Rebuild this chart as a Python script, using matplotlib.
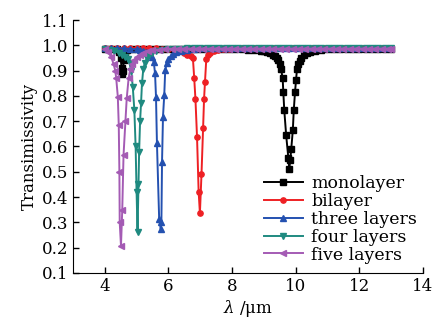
import matplotlib
matplotlib.use('Agg')
import matplotlib.pyplot as plt

plt.rcParams['font.family'] = ['DejaVu Serif']
plt.rcParams['mathtext.fontset'] = 'dejavuserif'

# (wavelength um, transmissivity)
mono = [(4.0, .986), (4.2, .986), (4.4, .984), (4.45, .975), (4.5, .95), (4.53, .91),
        (4.55, .885), (4.57, .90), (4.6, .94), (4.65, .97), (4.7, .981), (4.9, .985),
        (5.1, .986), (5.3, .986), (5.5, .986), (5.7, .986), (5.9, .986), (6.1, .986),
        (6.3, .986), (6.5, .986), (6.7, .986), (6.9, .986), (7.1, .986), (7.3, .986),
        (7.5, .986), (7.7, .986), (7.9, .986), (8.1, .985), (8.3, .984), (8.5, .983),
        (8.7, .981), (8.9, .978), (9.0, .976), (9.1, .973), (9.2, .969), (9.3, .962),
        (9.35, .957), (9.4, .950), (9.45, .940), (9.5, .925), (9.54, .905), (9.59, .870),
        (9.61, .817), (9.64, .745), (9.70, .645), (9.77, .553), (9.80, .512), (9.83, .548),
        (9.86, .590), (9.91, .665), (9.94, .745), (9.98, .817), (10.01, .862), (10.04, .905),
        (10.08, .925), (10.12, .938), (10.18, .950), (10.25, .960), (10.35, .968),
        (10.45, .973), (10.6, .978), (10.8, .982), (11.0, .984), (11.2, .985), (11.4, .986),
        (11.6, .986), (11.8, .986), (12.0, .986), (12.2, .986), (12.4, .986), (12.6, .986),
        (12.8, .986), (13.0, .986)]

bilayer = [(4.0, .988), (4.2, .988), (4.4, .988), (4.6, .988), (4.8, .988), (5.0, .988),
           (5.2, .988), (5.4, .988), (5.6, .988), (5.8, .987), (6.0, .986), (6.2, .982),
           (6.35, .977), (6.5, .970), (6.6, .963), (6.7, .956), (6.77, .949), (6.81, .872),
           (6.85, .787), (6.90, .636), (6.95, .421), (6.99, .336), (7.04, .491), (7.09, .672),
           (7.12, .787), (7.15, .856), (7.19, .945), (7.25, .960), (7.32, .970), (7.42, .977),
           (7.55, .982), (7.7, .985), (7.9, .987), (8.1, .988), (8.3, .988), (8.5, .988),
           (8.7, .988), (8.9, .988), (9.1, .988), (9.3, .988), (9.5, .988), (9.7, .988),
           (9.9, .988), (10.1, .988), (10.3, .988), (10.5, .988), (10.7, .988), (10.9, .988),
           (11.1, .988), (11.3, .988), (11.5, .988), (11.7, .988), (11.9, .988), (12.1, .988),
           (12.3, .988), (12.5, .988), (12.7, .988), (12.9, .988), (13.0, .988)]

three = [(4.0, .990), (4.2, .990), (4.4, .989), (4.6, .988), (4.8, .986), (5.0, .984),
         (5.1, .981), (5.2, .977), (5.3, .972), (5.4, .962), (5.47, .952), (5.54, .935),
         (5.58, .889), (5.61, .797), (5.64, .613), (5.71, .312), (5.76, .273), (5.78, .303),
         (5.80, .540), (5.83, .718), (5.87, .804), (5.90, .902), (5.95, .930), (6.0, .945),
         (6.07, .957), (6.15, .966), (6.25, .973), (6.4, .979), (6.6, .983), (6.8, .986),
         (7.0, .988), (7.2, .989), (7.4, .990), (7.6, .990), (7.8, .990), (8.0, .990),
         (8.2, .990), (8.4, .990), (8.6, .990), (8.8, .990), (9.0, .990), (9.2, .990),
         (9.4, .990), (9.6, .990), (9.8, .990), (10.0, .990), (10.2, .990), (10.4, .990),
         (10.6, .990), (10.8, .990), (11.0, .990), (11.2, .990), (11.4, .990), (11.6, .990),
         (11.8, .990), (12.0, .990), (12.2, .990), (12.4, .990), (12.6, .990), (12.8, .990),
         (13.0, .990)]

four = [(4.0, .986), (4.15, .983), (4.3, .978), (4.45, .970), (4.55, .963), (4.65, .953),
        (4.72, .944), (4.78, .930), (4.83, .900), (4.88, .836), (4.93, .744), (4.97, .600),
        (5.00, .420), (5.03, .263), (5.06, .450), (5.08, .579), (5.11, .700), (5.14, .770),
        (5.17, .850), (5.21, .905), (5.26, .932), (5.32, .948), (5.4, .960), (5.5, .969),
        (5.62, .976), (5.8, .981), (6.0, .984), (6.2, .986), (6.4, .987), (6.6, .988),
        (6.8, .988), (7.0, .988), (7.2, .988), (7.4, .988), (7.6, .988), (7.8, .988),
        (8.0, .988), (8.2, .988), (8.4, .988), (8.6, .988), (8.8, .988), (9.0, .988),
        (9.2, .988), (9.4, .988), (9.6, .988), (9.8, .988), (10.0, .988), (10.2, .988),
        (10.4, .988), (10.6, .988), (10.8, .988), (11.0, .988), (11.2, .988), (11.4, .988),
        (11.6, .988), (11.8, .988), (12.0, .988), (12.2, .988), (12.4, .988), (12.6, .988),
        (12.8, .988), (13.0, .988)]

five = [(4.0, .985), (4.1, .975), (4.2, .955), (4.28, .925), (4.33, .900), (4.36, .870),
        (4.41, .797), (4.44, .685), (4.46, .500), (4.47, .300), (4.51, .207), (4.55, .350),
        (4.59, .566), (4.65, .700), (4.69, .790), (4.75, .870), (4.80, .905), (4.86, .925),
        (4.93, .942), (5.0, .953), (5.1, .963), (5.2, .970), (5.35, .976), (5.5, .980),
        (5.7, .983), (5.9, .985), (6.1, .986), (6.3, .987), (6.5, .987), (6.7, .987),
        (6.9, .987), (7.1, .987), (7.3, .987), (7.5, .987), (7.7, .987), (7.9, .987),
        (8.1, .987), (8.3, .987), (8.5, .987), (8.7, .987), (8.9, .987), (9.1, .987),
        (9.3, .987), (9.5, .987), (9.7, .987), (9.9, .987), (10.1, .987), (10.3, .987),
        (10.5, .987), (10.7, .987), (10.9, .987), (11.1, .987), (11.3, .987), (11.5, .987),
        (11.7, .987), (11.9, .987), (12.1, .987), (12.3, .987), (12.5, .987), (12.7, .987),
        (12.9, .987), (13.0, .987)]

series = [mono, bilayer, three, four, five]
labels = ['monolayer', 'bilayer', 'three layers', 'four layers', 'five layers']
colors = ['black', '#ee2024', '#2451b0', '#1f8a80', '#a45bb4']
markers = ['s', 'o', '^', 'v', '<']

fig = plt.figure(figsize=(4.42, 3.23), dpi=100)
ax = fig.add_axes([0.165, 0.155, 0.792, 0.783])

for data, lab, c, m in zip(series, labels, colors, markers):
    xs = [p[0] for p in data]
    ys = [p[1] for p in data]
    ax.plot(xs, ys, color=c, marker=m, markersize=3.8, linewidth=1.4, label=lab)

ax.set_xlim(3, 14)
ax.set_ylim(0.1, 1.1)
ax.set_xticks([4, 6, 8, 10, 12, 14])
ax.set_yticks([0.1, 0.2, 0.3, 0.4, 0.5, 0.6, 0.7, 0.8, 0.9, 1.0, 1.1])
ax.tick_params(direction='in', length=4, width=1, labelsize=12)
ax.spines['top'].set_visible(False)
ax.spines['right'].set_visible(False)
ax.set_xlabel(r'$\lambda$ /μm', fontsize=12, labelpad=2)
ax.set_ylabel('Transimissivity', fontsize=12, labelpad=3)

fig.legend(loc='upper left', bbox_to_anchor=(0.598, 0.458), frameon=False,
           fontsize=12.5, handlelength=2.2, handletextpad=0.5, labelspacing=0.05,
           borderpad=0, borderaxespad=0)

fig.savefig('out.png', dpi=100)
